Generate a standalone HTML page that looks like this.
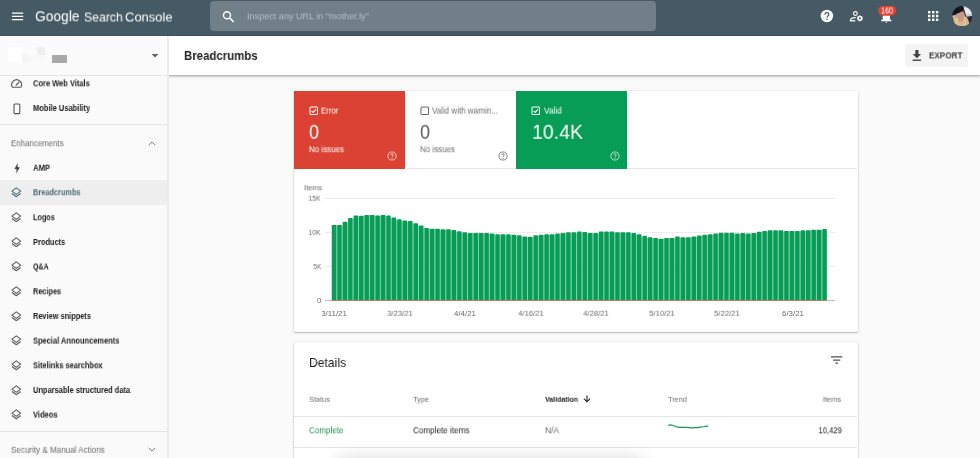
<!DOCTYPE html>
<html>
<head>
<meta charset="utf-8">
<title>Breadcrumbs</title>
<style>
*{box-sizing:border-box;margin:0;padding:0}
html,body{width:980px;height:458px;overflow:hidden;background:#fafafa;font-family:"Liberation Sans",sans-serif;color:#212121}
.abs{position:absolute}
.t{position:absolute;white-space:nowrap;line-height:1;transform-origin:0 50%;will-change:transform}
.card{background:#fff;box-shadow:0 1px 2px rgba(0,0,0,.24),0 0 2px rgba(0,0,0,.14);border-radius:1px}
.gl{position:absolute;left:325px;width:510px;height:1px;background:#ececec}
</style>
</head>
<body>
<div class="abs" style="left:0;top:0;width:980px;height:36px;background:#455a64"></div>
<div class="abs" style="left:0;top:34.500px;width:980px;height:1.500px;background:#42565f"></div>
<div class="abs" style="left:210px;top:1.200px;width:446px;height:29.800px;background:#707f88;border-radius:4px"></div>
<svg class="abs" style="left:11.500px;top:12px" width="12" height="9" viewBox="0 0 12 9"><path d="M0 1.100h11.200M0 4.350h11.200M0 7.600h11.200" stroke="#fff" stroke-width="1.250"/></svg>
<svg class="abs" style="left:222px;top:10px" width="14" height="14" viewBox="0 0 14 14"><circle cx="5" cy="5.300" r="3.500" fill="none" stroke="#fff" stroke-width="1.400"/><path d="M7.600 7.900L11.700 12" stroke="#fff" stroke-width="1.600"/></svg>
<svg class="abs" style="left:820px;top:9px" width="14" height="14" viewBox="0 0 14 14"><circle cx="6.900" cy="7" r="6.200" fill="#fff"/><path d="M5 5.700c0-1.200.8-2 1.900-2s1.900.7 1.900 1.800c0 1.300-1.800 1.500-1.800 2.900" fill="none" stroke="#455a64" stroke-width="1.250"/><circle cx="6.950" cy="10.300" r=".8" fill="#455a64"/></svg>
<svg class="abs" style="left:849px;top:10px" width="16" height="13" viewBox="0 0 16 13"><circle cx="6.400" cy="3.500" r="1.900" fill="none" stroke="#fff" stroke-width="1.100"/><path d="M6.800 7.700c-2.600-.3-5.200.7-5.500 3.200h5" fill="none" stroke="#fff" stroke-width="1.100" stroke-linejoin="round"/><circle cx="10.900" cy="8.300" r="1.900" fill="none" stroke="#fff" stroke-width="1.300"/><path d="M10.900 5.300v6M7.900 8.300h6M8.800 6.200l4.200 4.200M13 6.200l-4.200 4.200" stroke="#fff" stroke-width="1"/><circle cx="10.900" cy="8.300" r="1" fill="#455a64"/></svg>
<svg class="abs" style="left:876px;top:4px" width="22" height="20" viewBox="0 0 22 20"><path d="M10.300 9c-2.600 0-3.600 1.700-3.600 3.800v2.400l-1.700 1.400v.7h10.600v-.7l-1.700-1.400v-2.400c0-2.100-1-3.800-3.600-3.800z" fill="#fff"/><path d="M9.300 17.800h2c0 .5-.4.900-1 .9s-1-.4-1-.9z" fill="#fff"/><rect x="2" y="1.900" width="18.100" height="9.900" rx="4.950" fill="#db4437"/></svg>
<svg class="abs" style="left:927.600px;top:11.300px" width="11" height="11" viewBox="0 0 11 11" fill="#fff"><rect x="0.0" y="0.0" width="2.400" height="2.400"/><rect x="4.0" y="0.0" width="2.400" height="2.400"/><rect x="7.9" y="0.0" width="2.400" height="2.400"/><rect x="0.0" y="3.8" width="2.400" height="2.400"/><rect x="4.0" y="3.8" width="2.400" height="2.400"/><rect x="7.9" y="3.8" width="2.400" height="2.400"/><rect x="0.0" y="7.6" width="2.400" height="2.400"/><rect x="4.0" y="7.6" width="2.400" height="2.400"/><rect x="7.9" y="7.6" width="2.400" height="2.400"/></svg>
<svg class="abs" style="left:952px;top:5.700px" width="20.400" height="20.400" viewBox="0 0 20 20"><defs><clipPath id="av"><circle cx="10" cy="10" r="10"/></clipPath><filter id="bl" x="-20%" y="-20%" width="140%" height="140%"><feGaussianBlur stdDeviation=".7"/></filter></defs><g clip-path="url(#av)"><rect width="20" height="20" fill="#3a3836"/><g filter="url(#bl)"><path d="M10.500 -1h11v12l-7 .5z" fill="#c3c8d0"/><path d="M12 1.500l5 1 2 5-5 1z" fill="#e8ebef"/><path d="M14.500 10.500l6-1v6.500l-5 .5z" fill="#262c3c"/><path d="M-1 8.500c2 2 3 5 2.500 12h15c1-3 0-7-2-9.500l-4-1.500z" fill="#d6b68a"/><ellipse cx="8.200" cy="10" rx="4.300" ry="5.300" fill="#c8978a"/><path d="M4 11.500c-1 3-1.500 6-1 9h4c-1-3-1.500-6-1-9z" fill="#e0c79c"/><path d="M11.500 8c2 3 3 8 2 12h-3c1-4 1.500-8 1-12z" fill="#dcc094"/><ellipse cx="5.800" cy="3.700" rx="5.900" ry="3.300" transform="rotate(-24 5.800 3.700)" fill="#121217"/><path d="M0 5c1-1 3-2 4-2v4l-3.500 3z" fill="#15151a"/></g></g></svg>
<div class="abs" style="left:0;top:36px;width:980px;height:39px;background:#fff;box-shadow:0 1px 2px rgba(0,0,0,.28),0 2px 3px rgba(0,0,0,.10)"></div>
<div class="abs" style="left:0;top:36px;width:168px;height:422px;background:#fafafa"></div>
<div class="abs" style="left:167.300px;top:36px;width:1.500px;height:422px;background:#ebebeb"></div>
<div class="abs" style="left:0;top:36px;width:167.300px;height:39.500px;background:#fbfbfb"></div>
<div class="abs" style="left:0;top:75px;width:167.300px;height:1px;background:#e6e6e6"></div>
<div class="abs" style="left:8px;top:47px;width:14px;height:15px;background:#fff"></div>
<div class="abs" style="left:22px;top:54px;width:8px;height:8px;background:#f5f5f5"></div>
<div class="abs" style="left:37px;top:47px;width:8px;height:8px;background:#efefef"></div>
<div class="abs" style="left:30px;top:55px;width:15px;height:7px;background:#f8f8f8"></div>
<div class="abs" style="left:52px;top:55px;width:15px;height:7.500px;background:#a9a9a9"></div>
<svg class="abs" style="left:151px;top:53.700px" width="8" height="4" viewBox="0 0 8 4"><path d="M.6 0h6.800L4 3.600z" fill="#616161"/></svg>
<div class="abs" style="left:0;top:180.200px;width:167.300px;height:24.600px;background:#eeeeee"></div>
<svg class="abs" style="left:11.300px;top:78.6px" width="12" height="10" viewBox="0 0 12 10"><path d="M1.400 8.300A4.900 4.900 0 1 1 9.800 8.300z" fill="none" stroke="#585858" stroke-width="1.100" stroke-linejoin="round"/><path d="M5.200 6.200l2.500-2.900" stroke="#585858" stroke-width="1.200" stroke-linecap="round"/></svg>
<svg class="abs" style="left:12.500px;top:103.0px" width="8" height="12" viewBox="0 0 8 12"><rect x="1" y="1" width="5.800" height="9.600" rx="1" fill="none" stroke="#505050" stroke-width="1.050"/></svg>
<svg class="abs" style="left:13.700px;top:162.7px" width="7" height="11" viewBox="0 0 7 11"><path d="M3.600 0L.5 5.900h2.100L2.100 10.500 5.900 4.200H3.600z" fill="#424242"/></svg>
<svg class="abs" style="left:11.300px;top:186.9px" width="10.600" height="10.600" viewBox="0 0 10 10"><path d="M5 .8L.9 3.900 5 7l4.100-3.100z" fill="none" stroke="#4f6b78" stroke-width="1.050" stroke-linejoin="round"/><path d="M.9 6.100L5 9.200l4.100-3.100" fill="none" stroke="#4f6b78" stroke-width="1.050" stroke-linejoin="round"/></svg>
<svg class="abs" style="left:11.300px;top:211.9px" width="10.600" height="10.600" viewBox="0 0 10 10"><path d="M5 .8L.9 3.900 5 7l4.100-3.100z" fill="none" stroke="#5a5a5a" stroke-width="1.050" stroke-linejoin="round"/><path d="M.9 6.100L5 9.200l4.100-3.100" fill="none" stroke="#5a5a5a" stroke-width="1.050" stroke-linejoin="round"/></svg>
<svg class="abs" style="left:11.300px;top:236.7px" width="10.600" height="10.600" viewBox="0 0 10 10"><path d="M5 .8L.9 3.900 5 7l4.100-3.100z" fill="none" stroke="#5a5a5a" stroke-width="1.050" stroke-linejoin="round"/><path d="M.9 6.100L5 9.200l4.100-3.100" fill="none" stroke="#5a5a5a" stroke-width="1.050" stroke-linejoin="round"/></svg>
<svg class="abs" style="left:11.300px;top:261.2px" width="10.600" height="10.600" viewBox="0 0 10 10"><path d="M5 .8L.9 3.900 5 7l4.100-3.100z" fill="none" stroke="#5a5a5a" stroke-width="1.050" stroke-linejoin="round"/><path d="M.9 6.100L5 9.200l4.100-3.100" fill="none" stroke="#5a5a5a" stroke-width="1.050" stroke-linejoin="round"/></svg>
<svg class="abs" style="left:11.300px;top:286.0px" width="10.600" height="10.600" viewBox="0 0 10 10"><path d="M5 .8L.9 3.900 5 7l4.100-3.100z" fill="none" stroke="#5a5a5a" stroke-width="1.050" stroke-linejoin="round"/><path d="M.9 6.100L5 9.200l4.100-3.100" fill="none" stroke="#5a5a5a" stroke-width="1.050" stroke-linejoin="round"/></svg>
<svg class="abs" style="left:11.300px;top:310.7px" width="10.600" height="10.600" viewBox="0 0 10 10"><path d="M5 .8L.9 3.900 5 7l4.100-3.100z" fill="none" stroke="#5a5a5a" stroke-width="1.050" stroke-linejoin="round"/><path d="M.9 6.100L5 9.200l4.100-3.100" fill="none" stroke="#5a5a5a" stroke-width="1.050" stroke-linejoin="round"/></svg>
<svg class="abs" style="left:11.300px;top:335.3px" width="10.600" height="10.600" viewBox="0 0 10 10"><path d="M5 .8L.9 3.900 5 7l4.100-3.100z" fill="none" stroke="#5a5a5a" stroke-width="1.050" stroke-linejoin="round"/><path d="M.9 6.100L5 9.200l4.100-3.100" fill="none" stroke="#5a5a5a" stroke-width="1.050" stroke-linejoin="round"/></svg>
<svg class="abs" style="left:11.300px;top:360.0px" width="10.600" height="10.600" viewBox="0 0 10 10"><path d="M5 .8L.9 3.900 5 7l4.100-3.100z" fill="none" stroke="#5a5a5a" stroke-width="1.050" stroke-linejoin="round"/><path d="M.9 6.100L5 9.200l4.100-3.100" fill="none" stroke="#5a5a5a" stroke-width="1.050" stroke-linejoin="round"/></svg>
<svg class="abs" style="left:11.300px;top:384.7px" width="10.600" height="10.600" viewBox="0 0 10 10"><path d="M5 .8L.9 3.900 5 7l4.100-3.100z" fill="none" stroke="#5a5a5a" stroke-width="1.050" stroke-linejoin="round"/><path d="M.9 6.100L5 9.200l4.100-3.100" fill="none" stroke="#5a5a5a" stroke-width="1.050" stroke-linejoin="round"/></svg>
<svg class="abs" style="left:11.300px;top:409.3px" width="10.600" height="10.600" viewBox="0 0 10 10"><path d="M5 .8L.9 3.900 5 7l4.100-3.100z" fill="none" stroke="#5a5a5a" stroke-width="1.050" stroke-linejoin="round"/><path d="M.9 6.100L5 9.200l4.100-3.100" fill="none" stroke="#5a5a5a" stroke-width="1.050" stroke-linejoin="round"/></svg>
<div class="abs" style="left:0;top:124.300px;width:167.300px;height:1px;background:#e4e4e4"></div>
<svg class="abs" style="left:148.200px;top:140.700px" width="8" height="5" viewBox="0 0 8 5"><path d="M.7 4.200L4 .9l3.300 3.300" fill="none" stroke="#757575" stroke-width=".95"/></svg>
<div class="abs" style="left:0;top:431.200px;width:167.300px;height:1px;background:#e4e4e4"></div>
<svg class="abs" style="left:148.200px;top:447.300px" width="8" height="5" viewBox="0 0 8 5"><path d="M.7 .8L4 4.100l3.300-3.300" fill="none" stroke="#757575" stroke-width=".95"/></svg>
<div class="abs" style="left:904.700px;top:44.200px;width:63.200px;height:22.500px;background:#f4f4f4;border-radius:2.500px"></div>
<svg class="abs" style="left:912px;top:50px" width="10" height="12" viewBox="0 0 10 12"><path d="M3.300 0h3.200v4h2.600L4.900 8.200.7 4h2.600z" fill="#424242"/><rect x=".7" y="9.500" width="8.400" height="1.400" fill="#424242"/></svg>
<div class="abs card" style="left:294.200px;top:91.400px;width:563.400px;height:240.900px"></div>
<div class="abs" style="left:294.200px;top:168.300px;width:563px;height:1px;background:#e4e4e4"></div>
<div class="abs" style="left:294.200px;top:91.400px;width:111px;height:77.200px;background:#db4233;box-shadow:0 -1px 0 rgba(255,255,255,.85)"></div>
<div class="abs" style="left:516.200px;top:91.400px;width:111.100px;height:77.200px;background:#089d56;box-shadow:0 -1px 0 rgba(255,255,255,.85)"></div>
<div class="abs" style="left:405.200px;top:91.400px;width:1px;height:77.200px;background:#f3f3f3"></div>
<svg class="abs" style="left:308.6px;top:106.2px" width="9.700" height="9.700" viewBox="0 0 9 9"><rect x=".9" y=".9" width="7" height="7" rx="1" fill="none" stroke="#fff" stroke-width=".95"/><path d="M2.400 4.500l1.500 1.500 2.700-3" fill="none" stroke="#fff" stroke-width=".95"/></svg>
<svg class="abs" style="left:419.6px;top:106.2px" width="9.700" height="9.700" viewBox="0 0 9 9"><rect x=".9" y=".9" width="7" height="7" rx="1" fill="none" stroke="#666666" stroke-width=".95"/></svg>
<svg class="abs" style="left:530.6px;top:106.2px" width="9.700" height="9.700" viewBox="0 0 9 9"><rect x=".9" y=".9" width="7" height="7" rx="1" fill="none" stroke="#fff" stroke-width=".95"/><path d="M2.400 4.500l1.500 1.500 2.700-3" fill="none" stroke="#fff" stroke-width=".95"/></svg>
<svg class="abs" style="left:387.4px;top:150.9px" width="10" height="10" viewBox="0 0 10 10"><circle cx="5" cy="5" r="4.050" fill="none" stroke="#f3c0ba" stroke-width="1"/><path d="M3.700 4.100c0-.8.550-1.350 1.300-1.350s1.300.5 1.300 1.250c0 .85-1.250.95-1.250 1.950" fill="none" stroke="#f3c0ba" stroke-width="1"/><circle cx="5.050" cy="7.150" r=".6" fill="#f3c0ba"/></svg>
<svg class="abs" style="left:498.4px;top:150.9px" width="10" height="10" viewBox="0 0 10 10"><circle cx="5" cy="5" r="4.050" fill="none" stroke="#858585" stroke-width="1"/><path d="M3.700 4.100c0-.8.550-1.350 1.300-1.350s1.300.5 1.300 1.250c0 .85-1.250.95-1.250 1.950" fill="none" stroke="#858585" stroke-width="1"/><circle cx="5.050" cy="7.150" r=".6" fill="#858585"/></svg>
<svg class="abs" style="left:609.6px;top:150.9px" width="10" height="10" viewBox="0 0 10 10"><circle cx="5" cy="5" r="4.050" fill="none" stroke="#aedcc6" stroke-width="1"/><path d="M3.700 4.100c0-.8.550-1.350 1.300-1.350s1.300.5 1.300 1.250c0 .85-1.250.95-1.250 1.950" fill="none" stroke="#aedcc6" stroke-width="1"/><circle cx="5.050" cy="7.150" r=".6" fill="#aedcc6"/></svg>
<div class="gl" style="top:197.6px;"></div>
<div class="gl" style="top:231.8px;"></div>
<div class="gl" style="top:265.9px;"></div>
<div class="gl" style="top:300.1px;background:#bdbdbd"></div>
<svg class="abs" style="left:0;top:0" width="980" height="458" viewBox="0 0 980 458"><rect x="335.95" y="225.5" width="1.500" height="74.7" fill="#8fd1b1"/><rect x="331.75" y="224.9" width="4.500" height="75.3" rx=".6" fill="#089d56"/><rect x="341.40" y="225.5" width="1.500" height="74.7" fill="#8fd1b1"/><rect x="337.20" y="224.9" width="4.500" height="75.3" rx=".6" fill="#089d56"/><rect x="346.85" y="222.4" width="1.500" height="77.8" fill="#8fd1b1"/><rect x="342.65" y="221.8" width="4.500" height="78.4" rx=".6" fill="#089d56"/><rect x="352.30" y="218.7" width="1.500" height="81.5" fill="#8fd1b1"/><rect x="348.10" y="218.1" width="4.500" height="82.1" rx=".6" fill="#089d56"/><rect x="357.75" y="216.3" width="1.500" height="83.9" fill="#8fd1b1"/><rect x="353.55" y="215.5" width="4.500" height="84.7" rx=".6" fill="#089d56"/><rect x="363.20" y="216.3" width="1.500" height="83.9" fill="#8fd1b1"/><rect x="359.00" y="215.7" width="4.500" height="84.5" rx=".6" fill="#089d56"/><rect x="368.66" y="215.5" width="1.500" height="84.7" fill="#8fd1b1"/><rect x="364.46" y="214.9" width="4.500" height="85.3" rx=".6" fill="#089d56"/><rect x="374.11" y="216.1" width="1.500" height="84.1" fill="#8fd1b1"/><rect x="369.91" y="214.9" width="4.500" height="85.3" rx=".6" fill="#089d56"/><rect x="379.56" y="216.1" width="1.500" height="84.1" fill="#8fd1b1"/><rect x="375.36" y="215.5" width="4.500" height="84.7" rx=".6" fill="#089d56"/><rect x="385.01" y="216.1" width="1.500" height="84.1" fill="#8fd1b1"/><rect x="380.81" y="214.9" width="4.500" height="85.3" rx=".6" fill="#089d56"/><rect x="390.46" y="218.0" width="1.500" height="82.2" fill="#8fd1b1"/><rect x="386.26" y="215.5" width="4.500" height="84.7" rx=".6" fill="#089d56"/><rect x="395.91" y="219.9" width="1.500" height="80.3" fill="#8fd1b1"/><rect x="391.71" y="217.4" width="4.500" height="82.8" rx=".6" fill="#089d56"/><rect x="401.36" y="221.1" width="1.500" height="79.1" fill="#8fd1b1"/><rect x="397.16" y="219.3" width="4.500" height="80.9" rx=".6" fill="#089d56"/><rect x="406.81" y="221.7" width="1.500" height="78.5" fill="#8fd1b1"/><rect x="402.61" y="220.5" width="4.500" height="79.7" rx=".6" fill="#089d56"/><rect x="412.26" y="223.8" width="1.500" height="76.4" fill="#8fd1b1"/><rect x="408.06" y="221.1" width="4.500" height="79.1" rx=".6" fill="#089d56"/><rect x="417.71" y="226.2" width="1.500" height="74.0" fill="#8fd1b1"/><rect x="413.51" y="223.2" width="4.500" height="77.0" rx=".6" fill="#089d56"/><rect x="423.17" y="228.6" width="1.500" height="71.6" fill="#8fd1b1"/><rect x="418.97" y="225.6" width="4.500" height="74.6" rx=".6" fill="#089d56"/><rect x="428.62" y="229.3" width="1.500" height="70.9" fill="#8fd1b1"/><rect x="424.42" y="228.0" width="4.500" height="72.2" rx=".6" fill="#089d56"/><rect x="434.07" y="229.3" width="1.500" height="70.9" fill="#8fd1b1"/><rect x="429.87" y="228.7" width="4.500" height="71.5" rx=".6" fill="#089d56"/><rect x="439.52" y="229.9" width="1.500" height="70.3" fill="#8fd1b1"/><rect x="435.32" y="228.7" width="4.500" height="71.5" rx=".6" fill="#089d56"/><rect x="444.97" y="229.9" width="1.500" height="70.3" fill="#8fd1b1"/><rect x="440.77" y="229.3" width="4.500" height="70.9" rx=".6" fill="#089d56"/><rect x="450.42" y="230.6" width="1.500" height="69.6" fill="#8fd1b1"/><rect x="446.22" y="229.3" width="4.500" height="70.9" rx=".6" fill="#089d56"/><rect x="455.87" y="231.9" width="1.500" height="68.3" fill="#8fd1b1"/><rect x="451.67" y="230.0" width="4.500" height="70.2" rx=".6" fill="#089d56"/><rect x="461.32" y="232.9" width="1.500" height="67.3" fill="#8fd1b1"/><rect x="457.12" y="231.3" width="4.500" height="68.9" rx=".6" fill="#089d56"/><rect x="466.77" y="233.6" width="1.500" height="66.6" fill="#8fd1b1"/><rect x="462.57" y="232.3" width="4.500" height="67.9" rx=".6" fill="#089d56"/><rect x="472.22" y="233.6" width="1.500" height="66.6" fill="#8fd1b1"/><rect x="468.02" y="233.0" width="4.500" height="67.2" rx=".6" fill="#089d56"/><rect x="477.68" y="233.6" width="1.500" height="66.6" fill="#8fd1b1"/><rect x="473.48" y="233.0" width="4.500" height="67.2" rx=".6" fill="#089d56"/><rect x="483.13" y="233.6" width="1.500" height="66.6" fill="#8fd1b1"/><rect x="478.93" y="233.0" width="4.500" height="67.2" rx=".6" fill="#089d56"/><rect x="488.58" y="234.2" width="1.500" height="66.0" fill="#8fd1b1"/><rect x="484.38" y="233.0" width="4.500" height="67.2" rx=".6" fill="#089d56"/><rect x="494.03" y="234.9" width="1.500" height="65.3" fill="#8fd1b1"/><rect x="489.83" y="233.6" width="4.500" height="66.6" rx=".6" fill="#089d56"/><rect x="499.48" y="234.9" width="1.500" height="65.3" fill="#8fd1b1"/><rect x="495.28" y="234.3" width="4.500" height="65.9" rx=".6" fill="#089d56"/><rect x="504.93" y="234.9" width="1.500" height="65.3" fill="#8fd1b1"/><rect x="500.73" y="234.3" width="4.500" height="65.9" rx=".6" fill="#089d56"/><rect x="510.38" y="235.4" width="1.500" height="64.8" fill="#8fd1b1"/><rect x="506.18" y="234.3" width="4.500" height="65.9" rx=".6" fill="#089d56"/><rect x="515.83" y="235.9" width="1.500" height="64.3" fill="#8fd1b1"/><rect x="511.63" y="234.8" width="4.500" height="65.4" rx=".6" fill="#089d56"/><rect x="521.28" y="237.2" width="1.500" height="63.0" fill="#8fd1b1"/><rect x="517.08" y="235.3" width="4.500" height="64.9" rx=".6" fill="#089d56"/><rect x="526.74" y="237.4" width="1.500" height="62.8" fill="#8fd1b1"/><rect x="522.53" y="236.6" width="4.500" height="63.6" rx=".6" fill="#089d56"/><rect x="532.19" y="237.4" width="1.500" height="62.8" fill="#8fd1b1"/><rect x="527.99" y="236.8" width="4.500" height="63.4" rx=".6" fill="#089d56"/><rect x="537.64" y="235.9" width="1.500" height="64.3" fill="#8fd1b1"/><rect x="533.44" y="235.3" width="4.500" height="64.9" rx=".6" fill="#089d56"/><rect x="543.09" y="235.4" width="1.500" height="64.8" fill="#8fd1b1"/><rect x="538.89" y="234.8" width="4.500" height="65.4" rx=".6" fill="#089d56"/><rect x="548.54" y="234.9" width="1.500" height="65.3" fill="#8fd1b1"/><rect x="544.34" y="234.3" width="4.500" height="65.9" rx=".6" fill="#089d56"/><rect x="553.99" y="234.9" width="1.500" height="65.3" fill="#8fd1b1"/><rect x="549.79" y="234.3" width="4.500" height="65.9" rx=".6" fill="#089d56"/><rect x="559.44" y="234.2" width="1.500" height="66.0" fill="#8fd1b1"/><rect x="555.24" y="233.6" width="4.500" height="66.6" rx=".6" fill="#089d56"/><rect x="564.89" y="233.6" width="1.500" height="66.6" fill="#8fd1b1"/><rect x="560.69" y="233.0" width="4.500" height="67.2" rx=".6" fill="#089d56"/><rect x="570.34" y="232.9" width="1.500" height="67.3" fill="#8fd1b1"/><rect x="566.14" y="232.3" width="4.500" height="67.9" rx=".6" fill="#089d56"/><rect x="575.79" y="232.9" width="1.500" height="67.3" fill="#8fd1b1"/><rect x="571.59" y="232.3" width="4.500" height="67.9" rx=".6" fill="#089d56"/><rect x="581.25" y="232.7" width="1.500" height="67.5" fill="#8fd1b1"/><rect x="577.04" y="231.5" width="4.500" height="68.7" rx=".6" fill="#089d56"/><rect x="586.70" y="233.6" width="1.500" height="66.6" fill="#8fd1b1"/><rect x="582.50" y="232.1" width="4.500" height="68.1" rx=".6" fill="#089d56"/><rect x="592.15" y="233.6" width="1.500" height="66.6" fill="#8fd1b1"/><rect x="587.95" y="233.0" width="4.500" height="67.2" rx=".6" fill="#089d56"/><rect x="597.60" y="233.6" width="1.500" height="66.6" fill="#8fd1b1"/><rect x="593.40" y="233.0" width="4.500" height="67.2" rx=".6" fill="#089d56"/><rect x="603.05" y="232.1" width="1.500" height="68.1" fill="#8fd1b1"/><rect x="598.85" y="231.5" width="4.500" height="68.7" rx=".6" fill="#089d56"/><rect x="608.50" y="232.1" width="1.500" height="68.1" fill="#8fd1b1"/><rect x="604.30" y="231.5" width="4.500" height="68.7" rx=".6" fill="#089d56"/><rect x="613.95" y="232.8" width="1.500" height="67.4" fill="#8fd1b1"/><rect x="609.75" y="231.5" width="4.500" height="68.7" rx=".6" fill="#089d56"/><rect x="619.40" y="232.8" width="1.500" height="67.4" fill="#8fd1b1"/><rect x="615.20" y="232.2" width="4.500" height="68.0" rx=".6" fill="#089d56"/><rect x="624.85" y="232.8" width="1.500" height="67.4" fill="#8fd1b1"/><rect x="620.65" y="232.2" width="4.500" height="68.0" rx=".6" fill="#089d56"/><rect x="630.30" y="233.6" width="1.500" height="66.6" fill="#8fd1b1"/><rect x="626.10" y="232.2" width="4.500" height="68.0" rx=".6" fill="#089d56"/><rect x="635.76" y="234.9" width="1.500" height="65.3" fill="#8fd1b1"/><rect x="631.56" y="233.0" width="4.500" height="67.2" rx=".6" fill="#089d56"/><rect x="641.21" y="236.7" width="1.500" height="63.5" fill="#8fd1b1"/><rect x="637.01" y="234.3" width="4.500" height="65.9" rx=".6" fill="#089d56"/><rect x="646.66" y="237.9" width="1.500" height="62.3" fill="#8fd1b1"/><rect x="642.46" y="236.1" width="4.500" height="64.1" rx=".6" fill="#089d56"/><rect x="652.11" y="238.5" width="1.500" height="61.7" fill="#8fd1b1"/><rect x="647.91" y="237.3" width="4.500" height="62.9" rx=".6" fill="#089d56"/><rect x="657.56" y="239.3" width="1.500" height="60.9" fill="#8fd1b1"/><rect x="653.36" y="237.9" width="4.500" height="62.3" rx=".6" fill="#089d56"/><rect x="663.01" y="239.3" width="1.500" height="60.9" fill="#8fd1b1"/><rect x="658.81" y="238.7" width="4.500" height="61.5" rx=".6" fill="#089d56"/><rect x="668.46" y="238.5" width="1.500" height="61.7" fill="#8fd1b1"/><rect x="664.26" y="237.9" width="4.500" height="62.3" rx=".6" fill="#089d56"/><rect x="673.91" y="238.5" width="1.500" height="61.7" fill="#8fd1b1"/><rect x="669.71" y="237.9" width="4.500" height="62.3" rx=".6" fill="#089d56"/><rect x="679.36" y="237.9" width="1.500" height="62.3" fill="#8fd1b1"/><rect x="675.16" y="236.6" width="4.500" height="63.6" rx=".6" fill="#089d56"/><rect x="684.81" y="237.9" width="1.500" height="62.3" fill="#8fd1b1"/><rect x="680.61" y="237.3" width="4.500" height="62.9" rx=".6" fill="#089d56"/><rect x="690.27" y="237.9" width="1.500" height="62.3" fill="#8fd1b1"/><rect x="686.07" y="237.3" width="4.500" height="62.9" rx=".6" fill="#089d56"/><rect x="695.72" y="237.2" width="1.500" height="63.0" fill="#8fd1b1"/><rect x="691.52" y="236.6" width="4.500" height="63.6" rx=".6" fill="#089d56"/><rect x="701.17" y="236.0" width="1.500" height="64.2" fill="#8fd1b1"/><rect x="696.97" y="235.4" width="4.500" height="64.8" rx=".6" fill="#089d56"/><rect x="706.62" y="235.4" width="1.500" height="64.8" fill="#8fd1b1"/><rect x="702.42" y="234.8" width="4.500" height="65.4" rx=".6" fill="#089d56"/><rect x="712.07" y="234.9" width="1.500" height="65.3" fill="#8fd1b1"/><rect x="707.87" y="234.3" width="4.500" height="65.9" rx=".6" fill="#089d56"/><rect x="717.52" y="234.2" width="1.500" height="66.0" fill="#8fd1b1"/><rect x="713.32" y="233.6" width="4.500" height="66.6" rx=".6" fill="#089d56"/><rect x="722.97" y="233.4" width="1.500" height="66.8" fill="#8fd1b1"/><rect x="718.77" y="232.8" width="4.500" height="67.4" rx=".6" fill="#089d56"/><rect x="728.42" y="233.4" width="1.500" height="66.8" fill="#8fd1b1"/><rect x="724.22" y="232.8" width="4.500" height="67.4" rx=".6" fill="#089d56"/><rect x="733.87" y="234.2" width="1.500" height="66.0" fill="#8fd1b1"/><rect x="729.67" y="232.8" width="4.500" height="67.4" rx=".6" fill="#089d56"/><rect x="739.32" y="234.2" width="1.500" height="66.0" fill="#8fd1b1"/><rect x="735.12" y="233.6" width="4.500" height="66.6" rx=".6" fill="#089d56"/><rect x="744.78" y="234.2" width="1.500" height="66.0" fill="#8fd1b1"/><rect x="740.58" y="232.9" width="4.500" height="67.3" rx=".6" fill="#089d56"/><rect x="750.23" y="234.2" width="1.500" height="66.0" fill="#8fd1b1"/><rect x="746.03" y="233.6" width="4.500" height="66.6" rx=".6" fill="#089d56"/><rect x="755.68" y="233.5" width="1.500" height="66.7" fill="#8fd1b1"/><rect x="751.48" y="232.9" width="4.500" height="67.3" rx=".6" fill="#089d56"/><rect x="761.13" y="232.3" width="1.500" height="67.9" fill="#8fd1b1"/><rect x="756.93" y="231.7" width="4.500" height="68.5" rx=".6" fill="#089d56"/><rect x="766.58" y="231.6" width="1.500" height="68.6" fill="#8fd1b1"/><rect x="762.38" y="231.0" width="4.500" height="69.2" rx=".6" fill="#089d56"/><rect x="772.03" y="230.9" width="1.500" height="69.3" fill="#8fd1b1"/><rect x="767.83" y="230.3" width="4.500" height="69.9" rx=".6" fill="#089d56"/><rect x="777.48" y="230.9" width="1.500" height="69.3" fill="#8fd1b1"/><rect x="773.28" y="230.3" width="4.500" height="69.9" rx=".6" fill="#089d56"/><rect x="782.93" y="231.6" width="1.500" height="68.6" fill="#8fd1b1"/><rect x="778.73" y="230.3" width="4.500" height="69.9" rx=".6" fill="#089d56"/><rect x="788.38" y="231.6" width="1.500" height="68.6" fill="#8fd1b1"/><rect x="784.18" y="231.0" width="4.500" height="69.2" rx=".6" fill="#089d56"/><rect x="793.83" y="231.6" width="1.500" height="68.6" fill="#8fd1b1"/><rect x="789.63" y="231.0" width="4.500" height="69.2" rx=".6" fill="#089d56"/><rect x="799.29" y="231.6" width="1.500" height="68.6" fill="#8fd1b1"/><rect x="795.09" y="231.0" width="4.500" height="69.2" rx=".6" fill="#089d56"/><rect x="804.74" y="230.9" width="1.500" height="69.3" fill="#8fd1b1"/><rect x="800.54" y="230.3" width="4.500" height="69.9" rx=".6" fill="#089d56"/><rect x="810.19" y="230.9" width="1.500" height="69.3" fill="#8fd1b1"/><rect x="805.99" y="230.3" width="4.500" height="69.9" rx=".6" fill="#089d56"/><rect x="815.64" y="230.3" width="1.500" height="69.9" fill="#8fd1b1"/><rect x="811.44" y="229.7" width="4.500" height="70.5" rx=".6" fill="#089d56"/><rect x="821.09" y="230.3" width="1.500" height="69.9" fill="#8fd1b1"/><rect x="816.89" y="229.7" width="4.500" height="70.5" rx=".6" fill="#089d56"/><rect x="822.34" y="229.1" width="4.500" height="71.1" rx=".6" fill="#089d56"/><rect x="332" y="300" width="495" height=".8" fill="#c7714a"/></svg>
<div class="abs card" style="left:294.200px;top:342.100px;width:563.400px;height:130px"></div>
<svg class="abs" style="left:830.500px;top:356px" width="12" height="8" viewBox="0 0 12 8"><path d="M0 .9h11.400M2.100 4h7.200M4.400 7.100h2.600" stroke="#505050" stroke-width="1.250"/></svg>
<svg class="abs" style="left:582.500px;top:395.200px" width="8" height="8" viewBox="0 0 8 8"><path d="M4 .6v6M.9 3.700l3.100 3.100 3.100-3.100" fill="none" stroke="#212121" stroke-width="1.100"/></svg>
<div class="abs" style="left:294.200px;top:415.700px;width:563px;height:1px;background:#e4e4e4"></div>
<div class="abs" style="left:294.200px;top:446.600px;width:563px;height:1px;background:#e4e4e4"></div>
<svg class="abs" style="left:667px;top:421px" width="44" height="10" viewBox="0 0 44 10"><path d="M1.200 4.600c1.200-.8 3-1 4.500-.3s3 1.500 5 1.800 5 .3 8 .3 4 .3 6 .5 3-.4 5-.4 3-.2 5-.5 3-.6 6.500-.9" fill="none" stroke="#1a9852" stroke-width="1.250"/></svg>
<div class="abs" style="left:342px;top:466px;width:296px;height:20px;border-radius:3px;box-shadow:0 0 20px 5px rgba(0,0,0,.2)"></div>
<span class="t" id="logoG" style="top:8px;font-size:15.4px;color:#fff;left:35.10px;transform:translateY(0.20px) scaleX(0.8964);">Google</span>
<span class="t" id="logoS" style="top:10px;font-size:13.0px;color:#fff;left:83.70px;transform:translateY(0.50px) scaleX(0.9392);">Search</span>
<span class="t" id="logoC" style="top:10px;font-size:13.0px;color:#fff;left:124.90px;transform:translateY(0.50px) scaleX(0.9957);">Console</span>
<span class="t" id="ph" style="top:12px;font-size:9.1px;color:#b4c0c6;left:246.80px;transform:translateY(0.30px) scaleX(0.9961);">Inspect any URL in "mother.ly"</span>
<span class="t" id="badge" style="top:6px;font-size:8.8px;color:#fff;left:881.20px;transform:translateY(0.50px) scaleX(0.8238);">160</span>
<span class="t" id="n0" style="top:79px;font-size:8.5px;color:#212121;font-weight:bold;left:32.90px;transform:translateY(0.30px) scaleX(0.8803);">Core Web Vitals</span>
<span class="t" id="n1" style="top:104px;font-size:8.5px;color:#212121;font-weight:bold;left:32.90px;transform:translateY(0.00px) scaleX(0.8823);">Mobile Usability</span>
<span class="t" id="n2" style="top:163px;font-size:8.5px;color:#212121;font-weight:bold;left:32.90px;transform:translateY(0.70px) scaleX(0.8999);">AMP</span>
<span class="t" id="n3" style="top:188px;font-size:8.5px;color:#4f6b78;font-weight:bold;left:32.90px;transform:translateY(0.20px) scaleX(0.8666);">Breadcrumbs</span>
<span class="t" id="n4" style="top:213px;font-size:8.5px;color:#212121;font-weight:bold;left:32.90px;transform:translateY(0.20px) scaleX(0.8549);">Logos</span>
<span class="t" id="n5" style="top:238px;font-size:8.5px;color:#212121;font-weight:bold;left:32.90px;transform:translateY(0.00px) scaleX(0.8740);">Products</span>
<span class="t" id="n6" style="top:262px;font-size:8.5px;color:#212121;font-weight:bold;left:32.90px;transform:translateY(0.50px) scaleX(0.8258);">Q&amp;A</span>
<span class="t" id="n7" style="top:287px;font-size:8.5px;color:#212121;font-weight:bold;left:32.90px;transform:translateY(0.30px) scaleX(0.8617);">Recipes</span>
<span class="t" id="n8" style="top:312px;font-size:8.5px;color:#212121;font-weight:bold;left:32.90px;transform:translateY(0.00px) scaleX(0.8692);">Review snippets</span>
<span class="t" id="n9" style="top:336px;font-size:8.5px;color:#212121;font-weight:bold;left:32.90px;transform:translateY(0.60px) scaleX(0.8780);">Special Announcements</span>
<span class="t" id="n10" style="top:361px;font-size:8.5px;color:#212121;font-weight:bold;left:32.90px;transform:translateY(0.30px) scaleX(0.8717);">Sitelinks searchbox</span>
<span class="t" id="n11" style="top:386px;font-size:8.5px;color:#212121;font-weight:bold;left:32.90px;transform:translateY(0.00px) scaleX(0.8785);">Unparsable structured data</span>
<span class="t" id="n12" style="top:410px;font-size:8.5px;color:#212121;font-weight:bold;left:32.90px;transform:translateY(0.60px) scaleX(0.8839);">Videos</span>
<span class="t" id="sec1" style="top:139px;font-size:8.4px;color:#6b6b6b;left:10.80px;transform:translateY(0.20px) scaleX(0.9414);">Enhancements</span>
<span class="t" id="sec2" style="top:445px;font-size:8.4px;color:#6b6b6b;left:10.90px;transform:translateY(0.80px) scaleX(0.9630);">Security &amp; Manual Actions</span>
<span class="t" id="title" style="top:49px;font-size:12.7px;color:#212121;font-weight:bold;left:183.70px;transform:translateY(0.90px) scaleX(0.8998);">Breadcrumbs</span>
<span class="t" id="export" style="top:51px;font-size:8.7px;color:#383838;font-weight:bold;left:929.40px;transform:translateY(0.40px) scaleX(0.9319);">EXPORT</span>
<span class="t" id="lblE" style="top:106px;font-size:8.4px;color:#fff;left:321.40px;transform:translateY(0.60px) scaleX(0.9289);">Error</span>
<span class="t" id="numE" style="top:121px;font-size:20.3px;color:#fff;left:309.30px;transform:translateY(0.80px) scaleX(0.8864);">0</span>
<span class="t" id="niE" style="top:145px;font-size:8.4px;color:#fff;left:309.20px;transform:translateY(0.20px) scaleX(0.9516);">No issues</span>
<span class="t" id="lblW" style="top:106px;font-size:8.4px;color:#6b6b6b;left:432.40px;transform:translateY(0.60px) scaleX(0.9537);">Valid with warnin...</span>
<span class="t" id="numW" style="top:121px;font-size:20.3px;color:#5c5c5c;left:420.30px;transform:translateY(0.80px) scaleX(0.8864);">0</span>
<span class="t" id="niW" style="top:145px;font-size:8.4px;color:#6b6b6b;left:420.20px;transform:translateY(0.20px) scaleX(0.9516);">No issues</span>
<span class="t" id="lblV" style="top:106px;font-size:8.4px;color:#fff;left:543.60px;transform:translateY(0.60px) scaleX(0.9825);">Valid</span>
<span class="t" id="numV" style="top:121px;font-size:20.3px;color:#fff;left:531.60px;transform:translateY(0.80px) scaleX(0.9620);">10.4K</span>
<span class="t" id="axItems" style="top:184px;font-size:7.7px;color:#6b6b6b;left:304.20px;transform:translateY(0.20px) scaleX(0.9629);">Items</span>
<span class="t" id="y15" style="top:194px;font-size:7.7px;color:#6b6b6b;right:659.10px;transform-origin:100% 50%;transform:translateY(0.70px) scaleX(0.8986);">15K</span>
<span class="t" id="y10" style="top:228px;font-size:7.7px;color:#6b6b6b;right:659.10px;transform-origin:100% 50%;transform:translateY(0.87px) scaleX(0.8986);">10K</span>
<span class="t" id="y5" style="top:263px;font-size:7.7px;color:#6b6b6b;right:659.10px;transform-origin:100% 50%;transform:translateY(0.03px) scaleX(0.8611);">5K</span>
<span class="t" id="y0" style="top:297px;font-size:7.7px;color:#6b6b6b;right:659.10px;transform-origin:100% 50%;transform:translateY(0.20px) scaleX(1.0277);">0</span>
<span class="t" id="d0" style="top:309px;font-size:7.7px;color:#6b6b6b;left:334.00px;transform-origin:50% 50%;transform:translate(-50%,0.80px) scaleX(1.0208);">3/11/21</span>
<span class="t" id="d1" style="top:309px;font-size:7.7px;color:#6b6b6b;left:399.55px;transform-origin:50% 50%;transform:translate(-50%,0.80px) scaleX(0.9978);">3/23/21</span>
<span class="t" id="d2" style="top:309px;font-size:7.7px;color:#6b6b6b;left:465.10px;transform-origin:50% 50%;transform:translate(-50%,0.80px) scaleX(1.0246);">4/4/21</span>
<span class="t" id="d3" style="top:309px;font-size:7.7px;color:#6b6b6b;left:530.65px;transform-origin:50% 50%;transform:translate(-50%,0.80px) scaleX(0.9978);">4/16/21</span>
<span class="t" id="d4" style="top:309px;font-size:7.7px;color:#6b6b6b;left:596.20px;transform-origin:50% 50%;transform:translate(-50%,0.80px) scaleX(0.9978);">4/28/21</span>
<span class="t" id="d5" style="top:309px;font-size:7.7px;color:#6b6b6b;left:661.75px;transform-origin:50% 50%;transform:translate(-50%,0.80px) scaleX(0.9978);">5/10/21</span>
<span class="t" id="d6" style="top:309px;font-size:7.7px;color:#6b6b6b;left:727.30px;transform-origin:50% 50%;transform:translate(-50%,0.80px) scaleX(0.9978);">5/22/21</span>
<span class="t" id="d7" style="top:309px;font-size:7.7px;color:#6b6b6b;left:792.85px;transform-origin:50% 50%;transform:translate(-50%,0.80px) scaleX(1.0246);">6/3/21</span>
<span class="t" id="details" style="top:357px;font-size:12.6px;color:#212121;left:309.30px;transform:translateY(0.00px) scaleX(0.9636);">Details</span>
<span class="t" id="thS" style="top:395px;font-size:7.8px;color:#6b6b6b;left:308.90px;transform:translateY(0.80px) scaleX(0.9543);">Status</span>
<span class="t" id="thT" style="top:395px;font-size:7.8px;color:#6b6b6b;left:413.20px;transform:translateY(0.80px) scaleX(0.9405);">Type</span>
<span class="t" id="thV" style="top:395px;font-size:7.8px;color:#212121;font-weight:bold;left:544.50px;transform:translateY(0.80px) scaleX(0.8988);">Validation</span>
<span class="t" id="thTr" style="top:395px;font-size:7.8px;color:#6b6b6b;left:668.20px;transform:translateY(0.80px) scaleX(0.9356);">Trend</span>
<span class="t" id="thI" style="top:395px;font-size:7.8px;color:#6b6b6b;right:138.50px;transform-origin:100% 50%;transform:translateY(0.80px) scaleX(0.9600);">Items</span>
<span class="t" id="tdS" style="top:426px;font-size:8.8px;color:#1f9251;left:308.90px;transform:translateY(0.30px) scaleX(0.9162);">Complete</span>
<span class="t" id="tdT" style="top:426px;font-size:8.8px;color:#212121;left:413.20px;transform:translateY(0.30px) scaleX(0.9227);">Complete items</span>
<span class="t" id="tdV" style="top:426px;font-size:8.8px;color:#6b6b6b;left:544.50px;transform:translateY(0.30px) scaleX(0.9610);">N/A</span>
<span class="t" id="tdI" style="top:426px;font-size:8.8px;color:#212121;right:138.50px;transform-origin:100% 50%;transform:translateY(0.30px) scaleX(0.8697);">10,429</span>

</body>
</html>
